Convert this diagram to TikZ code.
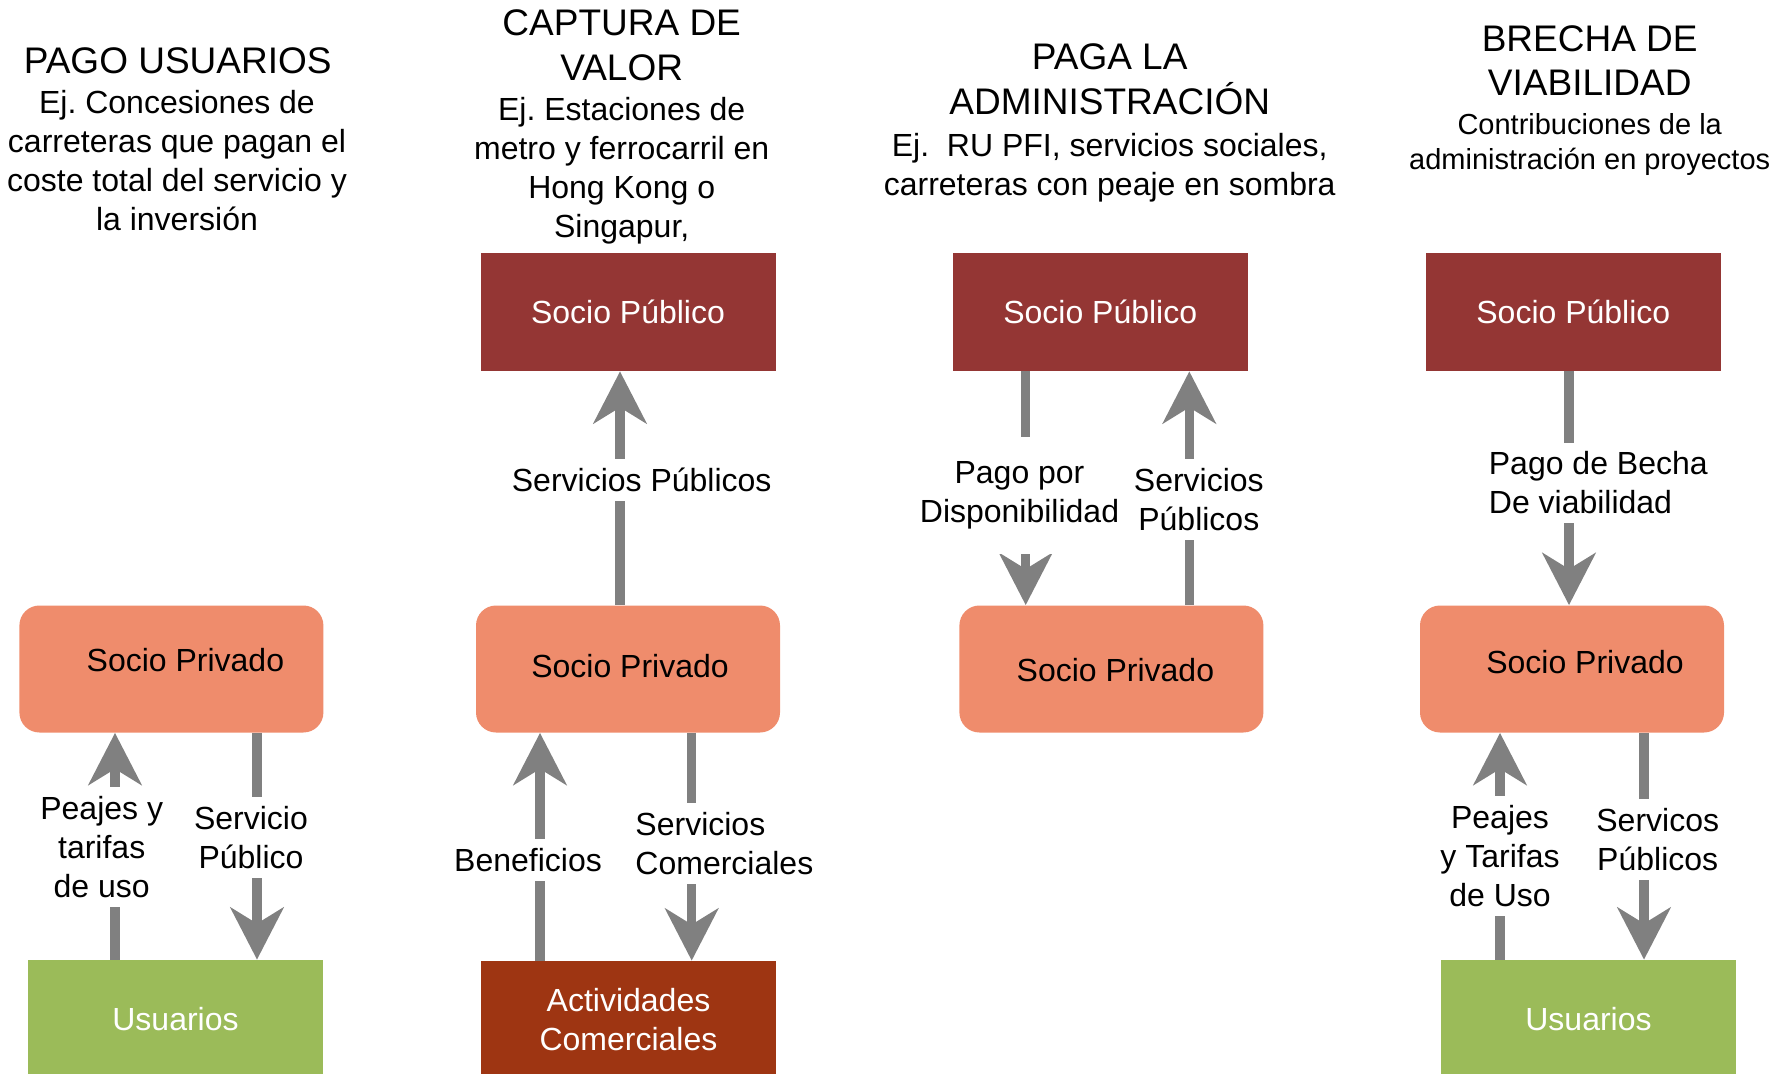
\documentclass[tikz,border=0pt]{standalone}
\usepackage{fontspec}
\setmainfont{Liberation Sans}
\usetikzlibrary{arrows.meta,positioning}
\definecolor{pubred}{RGB}{148,54,52}
\definecolor{privorange}{RGB}{239,140,108}
\definecolor{usugreen}{RGB}{155,187,89}
\definecolor{actrust}{RGB}{158,53,18}
\definecolor{flowgray}{RGB}{128,128,128}
\def\Pub{Socio Público}
\def\Priv{Socio Privado}
\def\Usu{Usuarios}
\frenchspacing

\begin{document}
\begin{tikzpicture}[% one unit is one pixel of the 1792x1074 sheet, y runs down
					x=0.5pt,y=-0.5pt,
					every node/.style={
						align=center,  		% "\\" breaks the lines
						font=\fontsize{16pt}{19.45pt}\selectfont
						},
					headtxt/.style={font=\fontsize{18.5pt}{22.3pt}\selectfont},
					smalltxt/.style={font=\fontsize{14.5pt}{17.7pt}\selectfont},
					pubbox/.style={rectangle,fill=pubred,text=white,minimum width=147.5pt,minimum height=59pt},
					privbox/.style={rectangle,rounded corners=10pt,fill=privorange,minimum width=152pt,minimum height=63.5pt},
					usubox/.style={rectangle,fill=usugreen,text=white,minimum width=147.5pt,minimum height=59pt},
					actbox/.style={usubox,fill=actrust},
					lbl/.style={fill=white,inner xsep=1pt,inner ysep=4.5pt},
					flowarrow/.style={draw=flowgray,line width=4.65pt,-{Stealth[length=26pt,width=26.5pt,inset=8pt]}}
					]
\useasboundingbox (0,0) rectangle (1792,1074);
\clip (0,0) rectangle (1792,1074);

% headings
\node[headtxt](tit1) at (177.7,60.6) {PAGO USUARIOS};
\node(sub1) at (177,160.5) {Ej. Concesiones de\\carreteras que pagan el\\coste total del servicio y\\la inversión};
\node[headtxt](tit2) at (621.7,45.2) {CAPTURA DE\\VALOR};
\node(sub2) at (621.7,170.7) {Ej. Estaciones de\\metro y ferrocarril en\\Hong Kong o\\Singapur,};
\node[headtxt](tit3) at (1109.7,79.4) {PAGA LA\\ADMINISTRACIÓN};
\node(sub3) at (1109.7,167.9) {Ej.\ \ RU PFI, servicios sociales,\\carreteras con peaje en sombra};
\node[headtxt](tit4) at (1589.7,60.6) {BRECHA DE\\VIABILIDAD};
\node[smalltxt](sub4) at (1589.7,144.3) {Contribuciones de la\\administración en proyectos};

% boxes
\node[pubbox](pub2) at (628,312) {\Pub};
\node[pubbox](pub3) at (1100.2,312) {\Pub};
\node[pubbox](pub4) at (1573.3,312) {\Pub};
\node[privbox,label={[shift={(14,-8.5)}]center:\Priv}](priv1) at (171.4,669) {};
\node[privbox,label={[shift={(2,-3)}]center:\Priv}](priv2) at (628,669) {};
\node[privbox,label={[shift={(4,1)}]center:\Priv}](priv3) at (1111.4,669) {};
\node[privbox,label={[shift={(13,-7)}]center:\Priv}](priv4) at (1572,669) {};
\node[usubox](usu1) at (175.5,1019) {\Usu};
\node[actbox](act2) at (628.5,1020) {Actividades\\Comerciales};
\node[usubox](usu4) at (1588.5,1019) {\Usu};

% flows
\draw[flowarrow] (115,0 |- usu1.north) -- (115,0 |- priv1.south);
\draw[flowarrow] (257,0 |- priv1.south) -- (257,0 |- usu1.north);
\draw[flowarrow] (620,0 |- priv2.north) -- (620,0 |- pub2.south);
\draw[flowarrow] (540,0 |- act2.north) -- (540,0 |- priv2.south);
\draw[flowarrow] (691.7,0 |- priv2.south) -- (691.7,0 |- act2.north);
\draw[flowarrow] (1025.7,0 |- pub3.south) -- (1025.7,0 |- priv3.north);
\draw[flowarrow] (1189.3,0 |- priv3.north) -- (1189.3,0 |- pub3.south);
\draw[flowarrow] (1569,0 |- pub4.south) -- (1569,0 |- priv4.north);
\draw[flowarrow] (1500,0 |- usu4.north) -- (1500,0 |- priv4.south);
\draw[flowarrow] (1644,0 |- priv4.south) -- (1644,0 |- usu4.north);

% flow labels
\node[lbl](l1a) at (101.7,847) {Peajes y\\tarifas\\de uso};
\node[lbl](l1b) at (251,837.5) {Servicio\\Público};
\node[lbl](l2a) at (641.7,480) {Servicios Públicos};
\node[lbl](l2b) at (528,860) {Beneficios};
\node[lbl,align=left](l2c) at (724.4,843.5) {Servicios\\Comerciales};
\node[lbl,inner ysep=12.5pt](l3a) at (1019.5,495.5) {Pago por\\Disponibilidad};
\node[lbl](l3b) at (1198.8,499.5) {Servicios\\Públicos};
\node[lbl,align=left](l4a) at (1598.3,483) {Pago de Becha\\De viabilidad};
\node[lbl](l4b) at (1500,856) {Peajes\\y Tarifas\\de Uso};
\node[lbl](l4c) at (1657.7,839.5) {Servicos\\Públicos};
\end{tikzpicture}
\end{document}
